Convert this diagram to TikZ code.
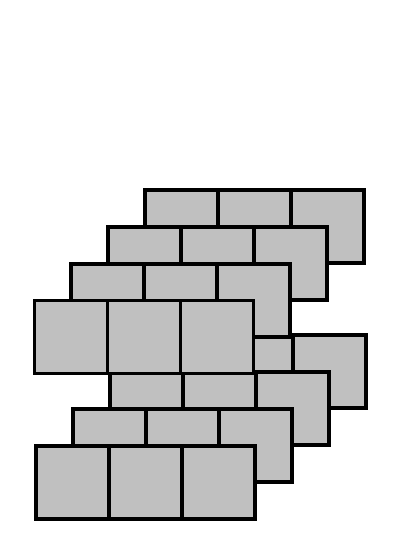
\documentclass[tikz,border=0pt]{standalone}
\usepackage{tikz}
\definecolor{tilegray}{RGB}{192,192,192}
\tikzset{cell/.style={fill=tilegray,draw=black,line width=1.5pt}}

\begin{document}
\begin{tikzpicture}
    \useasboundingbox (0,0) rectangle (5.685,-7.356);
    % lower stack, back layer first
    \foreach \k in {3,2,1,0}
        \foreach \c in {0,1,2}
            \draw[cell] ({0.493+0.505*\k+\c},{-6.105+0.505*\k}) rectangle +(1,-1);
    % upper stack
    \foreach \k in {3,2,1,0}
        \foreach \c in {0,1,2}
            \draw[cell] ({0.473+0.505*\k+\c},{-4.116+0.505*\k}) rectangle +(1,-1);
\end{tikzpicture}
\end{document}
